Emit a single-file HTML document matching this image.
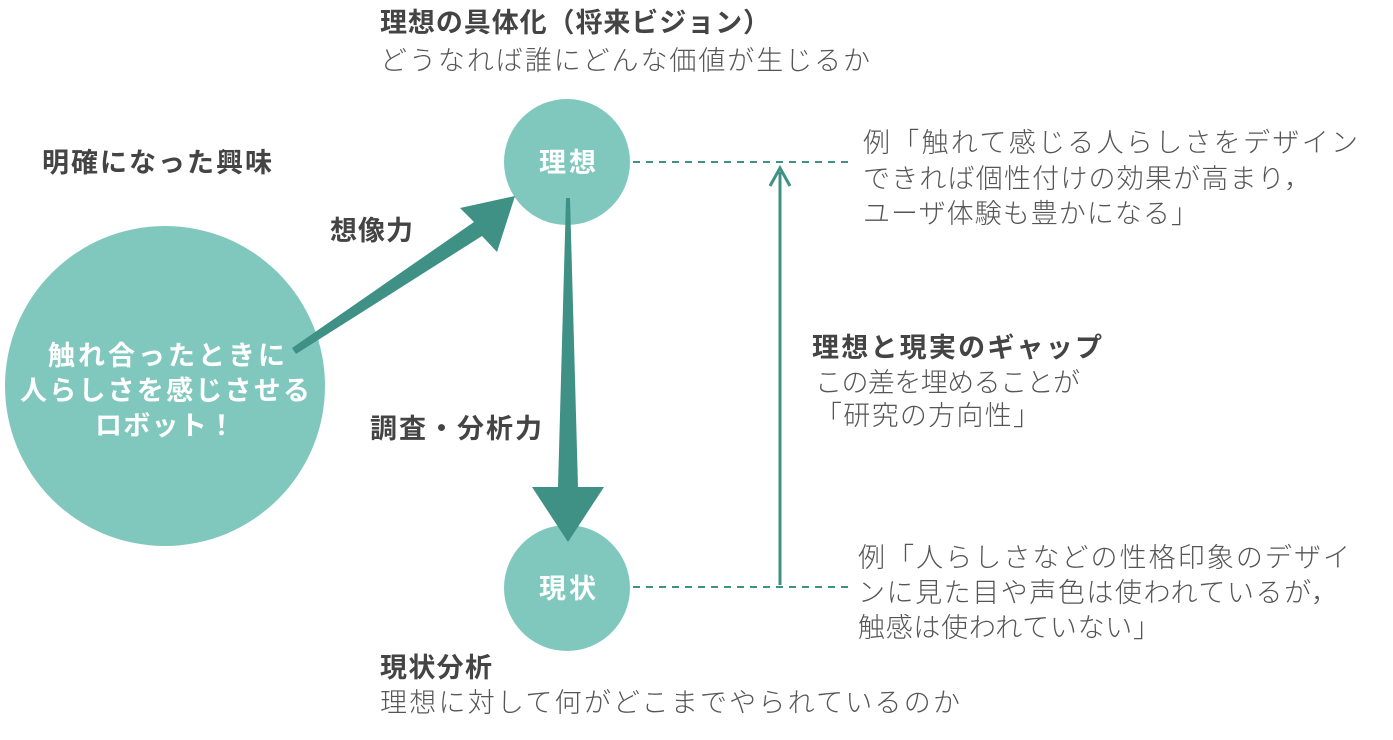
<!DOCTYPE html>
<html><head><meta charset="utf-8"><style>
html,body{margin:0;padding:0;background:#fff;}
svg{display:block;}
text{font-family:"Liberation Sans","Noto Sans CJK JP",sans-serif;font-size:27px;}
.b{font-weight:bold;fill:#444;font-size:27px;}
.r{fill:#555;font-weight:300;}
.w{font-weight:bold;fill:#fff;font-size:27px;}
</style></head><body>
<svg width="1393" height="740" viewBox="0 0 1393 740" xmlns="http://www.w3.org/2000/svg">
<circle cx="165" cy="386" r="160" fill="#80C8BE"/>
<circle cx="567" cy="162" r="63" fill="#80C8BE"/>
<circle cx="567" cy="588" r="63" fill="#80C8BE"/>
<line x1="633" y1="162" x2="850" y2="162" stroke="#3F9185" stroke-width="2" stroke-dasharray="7,6"/>
<line x1="633" y1="587" x2="850" y2="587" stroke="#3F9185" stroke-width="2" stroke-dasharray="7,6"/>
<line x1="780" y1="585" x2="780" y2="172" stroke="#3F9185" stroke-width="3"/>
<polyline points="770,186 780,168 790,186" fill="none" stroke="#3F9185" stroke-width="3"/>
<polygon points="292,348 296,354 482,236 497,252 515,196 460,208 474,222" fill="#3F9185"/>
<polygon points="566,198 570,198 578,487 604,487 568,542 532,487 558,487" fill="#3F9185"/>
<text class="b" x="380" y="32" textLength="390" lengthAdjust="spacing">理想の具体化（将来ビジョン）</text>
<text class="r" x="380" y="70" textLength="490" lengthAdjust="spacing">どうなれば誰にどんな価値が生じるか</text>
<text class="b" x="42" y="172" textLength="230" lengthAdjust="spacing">明確になった興味</text>
<text class="b" x="330" y="240" textLength="83" lengthAdjust="spacing">想像力</text>
<text class="b" x="370" y="438" textLength="172" lengthAdjust="spacing">調査・分析力</text>
<text class="w" x="48" y="365" textLength="237" lengthAdjust="spacing">触れ合ったときに</text>
<text class="w" x="20" y="400" textLength="290" lengthAdjust="spacing">人らしさを感じさせる</text>
<text class="w" x="95" y="435" textLength="140" lengthAdjust="spacing">ロボット！</text>
<text class="w" x="539" y="172" textLength="57" lengthAdjust="spacing">理想</text>
<text class="w" x="539" y="598" textLength="57" lengthAdjust="spacing">現状</text>
<text class="r" x="863" y="152" textLength="495" lengthAdjust="spacing">例「触れて感じる人らしさをデザイン</text>
<text class="r" x="863" y="188" textLength="448" lengthAdjust="spacing">できれば個性付けの効果が高まり，</text>
<text class="r" x="863" y="223" textLength="335" lengthAdjust="spacing">ユーザ体験も豊かになる」</text>
<text class="b" x="812" y="357" textLength="290" lengthAdjust="spacing">理想と現実のギャップ</text>
<text class="r" x="815" y="392" textLength="265" lengthAdjust="spacing">この差を埋めることが</text>
<text class="r" x="815" y="425" textLength="225" lengthAdjust="spacing">「研究の方向性」</text>
<text class="r" x="858" y="567" textLength="492" lengthAdjust="spacing">例「人らしさなどの性格印象のデザイ</text>
<text class="r" x="858" y="602" textLength="480" lengthAdjust="spacing">ンに見た目や声色は使われているが，</text>
<text class="r" x="858" y="637" textLength="302" lengthAdjust="spacing">触感は使われていない」</text>
<text class="b" x="380" y="677" textLength="112" lengthAdjust="spacing">現状分析</text>
<text class="r" x="380" y="712" textLength="580" lengthAdjust="spacing">理想に対して何がどこまでやられているのか</text>
</svg>
</body></html>
